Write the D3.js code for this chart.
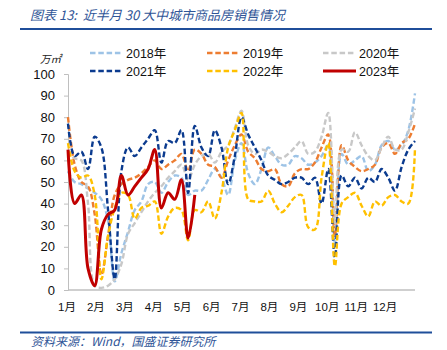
<!DOCTYPE html>
<html>
<head>
<meta charset="utf-8">
<script src="https://cdn.jsdelivr.net/npm/d3@7"></script>
<style>
  body { margin: 0; background: #fff; }
  text { font-family: "Liberation Sans", Arial, "Noto Sans CJK SC", sans-serif; }
  .cjk { font-family: "Noto Sans CJK SC", sans-serif; }
</style>
</head>
<body>
<div id="chart"></div>
<script>
/***** data (weekly, 万㎡) *****/
var months = ["1月","2月","3月","4月","5月","6月","7月","8月","9月","10月","11月","12月"];
var yTicks = [0,10,20,30,40,50,60,70,80,90,100];

var s2018 = [55,50,49,47,45,42,32,4,17,27,37,41,49,50,45,50,53,52,44,46,46,51,56,52,44,60,68,54,49,56,66,62,58,58,62,61,58,59,62,67,22,63,58,60,62,55,58,67,69,65,67,74,91];
var s2019 = [80,58,50,48,35,7,25,44,49,51,52,54,57,60,56,58,60,63,55,65,63,58,57,52,60,67,72,64,61,56,55,56,49,48,54,56,56,59,66,72,25,67,60,57,55,56,58,66,68,63,68,70,77];
var s2020 = [65,61,60,40,2,1,2,5,12,26,31,36,41,45,48,52,55,58,51,58,62,63,59,64,67,75,83,67,63,65,64,62,61,63,66,69,63,64,71,82,30,65,64,73,67,62,60,66,71,65,65,73,84];
var s2021 = [77,62,64,56,71,66,37,5,55,66,62,66,70,74,59,69,68,74,45,76,66,62,74,66,49,62,80,72,66,60,53,51,49,50,52,52,49,52,40,56,15,53,48,52,47,52,50,56,52,46,57,65,69];
var s2022 = [68,55,52,53,44,5,25,38,45,44,33,38,39,41,26,34,38,37,23,37,36,41,33,45,66,74,82,42,41,41,46,40,36,39,43,44,29,28,52,68,11,40,43,45,39,34,41,39,43,44,41,40,66];
var s2023 = [65,40,44,10,2,28,35,37,53,44,48,52,56,65,38,45,42,51,24,44];

var seriesNames = ["2018年","2019年","2020年","2021年","2022年","2023年"];
var seriesData = [s2018, s2019, s2020, s2021, s2022, s2023];
var seriesColors = ["#9DC3E6","#ED7D31","#C8C8C8","#0B3B8F","#FFC000","#C00000"];

/***** chart *****/
var W = 447, H = 350;
var svg = d3.select("#chart").append("svg")
  .attr("width", W)
  .attr("height", H);

var x = d3.scaleLinear().domain([0, 52]).range([68, 415]);
var xm = d3.scaleLinear().domain([0, 12]).range([68, 415]);
var y = d3.scaleLinear().domain([0, 100]).range([290, 74]);

// title + rules
svg.append("text")
  .attr("class", "cjk")
  .attr("x", 30).attr("y", 20)
  .attr("font-size", 13)
  .attr("font-style", "italic")
  .attr("fill", "#2F5597")
  .style("white-space", "pre")
  .text("图表 13:  近半月 30 大中城市商品房销售情况");

svg.append("line")
  .attr("x1", 20).attr("x2", 432).attr("y1", 29).attr("y2", 29)
  .attr("stroke", "#1F4E9A").attr("stroke-width", 2);

svg.append("line")
  .attr("x1", 20).attr("x2", 432).attr("y1", 332.5).attr("y2", 332.5)
  .attr("stroke", "#1F4E9A").attr("stroke-width", 2);

svg.append("text")
  .attr("class", "cjk")
  .attr("x", 31).attr("y", 346)
  .attr("font-size", 12)
  .attr("font-style", "italic")
  .attr("fill", "#2F5597")
  .text("资料来源：Wind，国盛证券研究所");

// unit
svg.append("text")
  .attr("class", "cjk")
  .attr("x", 40).attr("y", 63)
  .attr("font-size", 10.5)
  .attr("font-style", "italic")
  .attr("fill", "#222")
  .text("万㎡");

// y axis
var yAxis = d3.axisLeft(y).tickValues(yTicks).tickSize(4).tickPadding(9);
var gy = svg.append("g")
  .attr("transform", "translate(68,0)")
  .call(yAxis);
gy.select(".domain").attr("stroke", "#BFBFBF");
gy.selectAll(".tick line").attr("stroke", "#BFBFBF");
gy.selectAll(".tick text")
  .attr("font-size", 13)
  .attr("fill", "#111")
  .style("font-family", "'Liberation Sans', Arial, sans-serif");

// x axis line
svg.append("line")
  .attr("x1", 68).attr("x2", 415).attr("y1", 290).attr("y2", 290)
  .attr("stroke", "#BFBFBF").attr("stroke-width", 1.5);

svg.append("g").selectAll("text")
  .data(months)
  .join("text")
  .attr("x", function(d, i) { return xm(i) - 1; })
  .attr("y", 311)
  .attr("text-anchor", "middle")
  .attr("font-size", 11.5)
  .attr("fill", "#111")
  .text(function(d) { return d; });

// clip so smoothed dips don't run under the axis
svg.append("defs").append("clipPath")
  .attr("id", "plotclip")
  .append("rect")
  .attr("x", 60).attr("y", 60).attr("width", 370).attr("height", 230);

var line = d3.line()
  .x(function(d, i) { return x(i); })
  .y(function(d) { return y(d); })
  .curve(d3.curveCatmullRom.alpha(0.5));

var plot = svg.append("g").attr("clip-path", "url(#plotclip)");
seriesData.forEach(function(vals, k) {
  var solid = k === 5;
  plot.append("path")
    .datum(vals)
    .attr("d", line)
    .attr("fill", "none")
    .attr("stroke", seriesColors[k])
    .attr("stroke-width", solid ? 3 : 2.4)
    .attr("stroke-dasharray", solid ? null : "5.5,2.8")
    .attr("stroke-linejoin", "round");
});

// legend
var legendPos = [[90,53],[207,53],[323,53],[90,71],[207,71],[323,71]];
var legend = svg.append("g");
seriesNames.forEach(function(name, k) {
  var p = legendPos[k];
  var solid = k === 5;
  legend.append("line")
    .attr("x1", p[0]).attr("x2", p[0] + 33)
    .attr("y1", p[1]).attr("y2", p[1])
    .attr("stroke", seriesColors[k])
    .attr("stroke-width", solid ? 3 : 2.4)
    .attr("stroke-dasharray", solid ? null : "5.5,2.8");
  legend.append("text")
    .attr("x", p[0] + 36).attr("y", p[1] + 4.5)
    .attr("font-size", 12.5)
    .attr("fill", "#111")
    .text(name);
});
</script>
</body>
</html>
